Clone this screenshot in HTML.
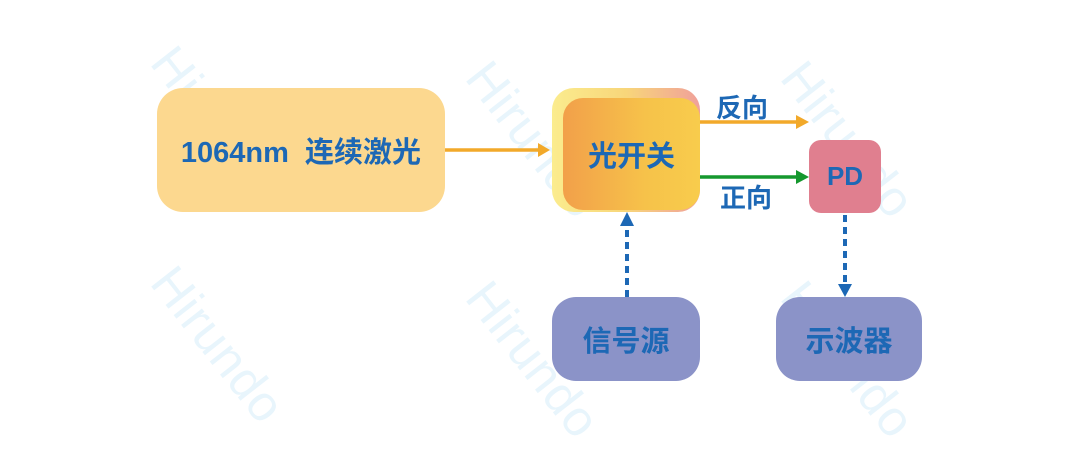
<!DOCTYPE html>
<html><head><meta charset="utf-8"><style>
body{margin:0;width:1080px;height:448px;background:#fff;position:relative;overflow:hidden;font-family:"Liberation Sans","Noto Sans CJK SC",sans-serif}
.wm{position:absolute;color:#e8f5fc;font-size:50px;font-family:"Liberation Sans",sans-serif;transform:rotate(52deg);transform-origin:left top;letter-spacing:1px}
.b{position:absolute;display:flex;align-items:center;justify-content:center;color:#1d68b5;font-weight:bold;font-family:"Liberation Sans","Noto Sans CJK SC",sans-serif}
</style></head><body>
<div class="wm" style="left:185px;top:35px">Hirundo</div>
<div class="wm" style="left:500px;top:50px">Hirundo</div>
<div class="wm" style="left:815px;top:50px">Hirundo</div>
<div class="wm" style="left:185px;top:255px">Hirundo</div>
<div class="wm" style="left:500px;top:270px">Hirundo</div>
<div class="wm" style="left:815px;top:270px">Hirundo</div>

<div class="b" style="left:157px;top:88px;width:288px;height:124px;border-radius:26px;background:#fcd88f;font-size:29px">1064nm&nbsp;&nbsp;连续激光</div>
<div style="position:absolute;left:552px;top:88px;width:148px;height:124px;border-radius:22px;background:linear-gradient(90deg,#fbec8e,#f8d67a 50%,#f0a09a)"></div>
<div class="b" style="left:563px;top:98px;width:137px;height:112px;border-radius:20px;background:linear-gradient(90deg,#f2a04a,#f6c24a 60%,#f8cc4c);font-size:29px">光开关</div>
<div class="b" style="left:809px;top:140px;width:72px;height:73px;border-radius:12px;background:#e07f8f;font-size:26px">PD</div>
<div class="b" style="left:552px;top:297px;width:148px;height:84px;border-radius:24px;background:#8b93c8;font-size:29px">信号源</div>
<div class="b" style="left:776px;top:297px;width:146px;height:84px;border-radius:24px;background:#8b93c8;font-size:29px">示波器</div>
<div class="b" style="left:716px;top:88px;font-size:26px">反向</div>
<div class="b" style="left:720px;top:178px;font-size:26px">正向</div>

<svg width="1080" height="448" style="position:absolute;left:0;top:0">
<g stroke-width="3.5" fill="none">
<line x1="445" y1="150" x2="540" y2="150" stroke="#f2a92a"/>
<line x1="700" y1="122" x2="798" y2="122" stroke="#f2a92a"/>
<line x1="700" y1="177" x2="798" y2="177" stroke="#15982e"/>
<line x1="627" y1="297" x2="627" y2="226" stroke="#1d68b5" stroke-width="4" stroke-dasharray="7,5"/>
<line x1="845" y1="215" x2="845" y2="286" stroke="#1d68b5" stroke-width="4" stroke-dasharray="7,5"/>
</g>
<polygon points="550,150 538,143 538,157" fill="#f2a92a"/>
<polygon points="809,122 796,115 796,129" fill="#f2a92a"/>
<polygon points="809,177 796,170 796,184" fill="#15982e"/>
<polygon points="627,212 620,226 634,226" fill="#1d68b5"/>
<polygon points="845,297 838,284 852,284" fill="#1d68b5"/>
</svg>
</body></html>
